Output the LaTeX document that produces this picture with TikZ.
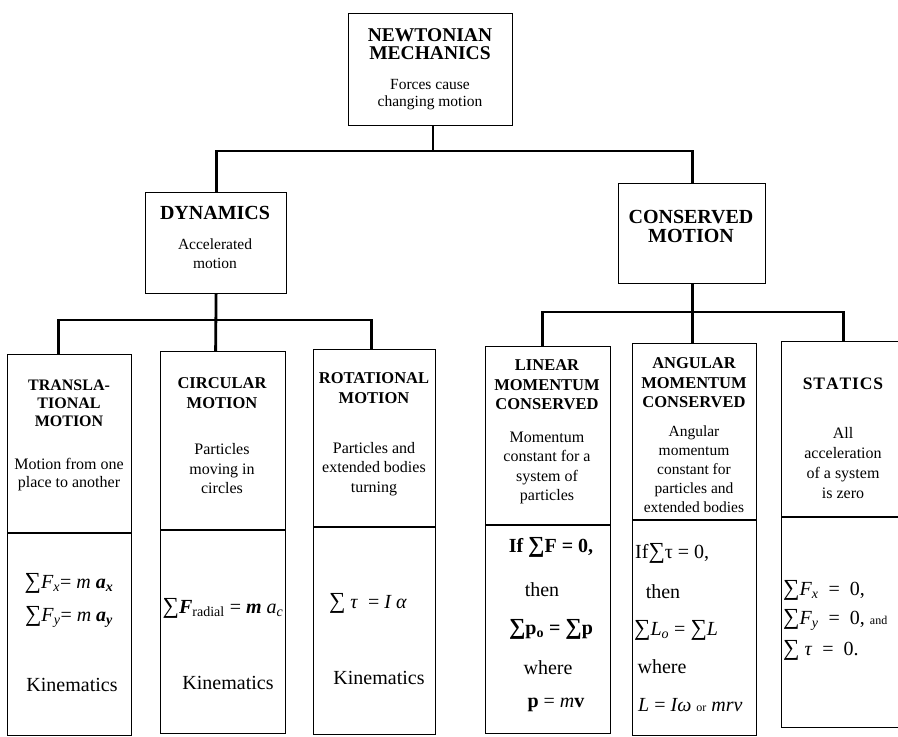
\documentclass[tikz,border=0pt]{standalone}
\usepackage{fontspec}
\setmainfont{Liberation Serif}
\newcommand{\bigS}{{\fontsize{23}{23}\selectfont ∑}}
\newcommand{\lk}{\kern0.9pt}
\begin{document}
\begin{tikzpicture}[x=1pt,y=-1pt,
  box/.style={draw, line width=1.2pt, rectangle, inner sep=0pt, anchor=north west},
  conn/.style={line width=2.8pt},
  divl/.style={line width=1.2pt},
  hA/.style={font=\fontsize{19.5}{18.5}\selectfont\bfseries, align=center, inner sep=0pt},
  hB/.style={font=\fontsize{16.5}{19.5}\selectfont\bfseries, align=center, inner sep=0pt},
  bodyt/.style={font=\fontsize{16}{19.5}\selectfont, align=center, inner sep=0pt},
  frm/.style={font=\fontsize{20}{22}\selectfont, inner sep=0pt},
  frmw/.style={font=\fontsize{20}{22}\selectfont, inner sep=0pt, anchor=west}
]
\useasboundingbox (0,0) rectangle (898,737);
\clip (0,0) rectangle (898,737);
\fill[white] (0,0) rectangle (898,737);

% boxes
\node[box, minimum width=164pt, minimum height=112pt] (top) at (348,13) {};
\node[box, minimum width=141pt, minimum height=101pt] (dyn) at (145,192) {};
\node[box, minimum width=147pt, minimum height=100pt] (cons) at (618,183) {};
\node[box, minimum width=124pt, minimum height=381pt] (trans) at (7,354) {};
\node[box, minimum width=125pt, minimum height=382pt] (circ) at (160,351) {};
\node[box, minimum width=122pt, minimum height=385pt] (rot) at (313,349) {};
\node[box, minimum width=125pt, minimum height=387pt] (lin) at (485,346) {};
\node[box, minimum width=124pt, minimum height=392pt] (ang) at (632,343) {};
\node[box, minimum width=124pt, minimum height=386pt] (stat) at (781,341) {};

% dividers
\draw[divl] (trans.west |- 0,533) -- (trans.east |- 0,533);
\draw[divl] (circ.west |- 0,530) -- (circ.east |- 0,530);
\draw[divl] (rot.west |- 0,527) -- (rot.east |- 0,527);
\draw[divl] (lin.west |- 0,525) -- (lin.east |- 0,525);
\draw[divl] (ang.west |- 0,520) -- (ang.east |- 0,520);
\draw[divl] (stat.west |- 0,517) -- (stat.east |- 0,517);

% connectors
\coordinate (b1) at (433,151);
\coordinate (b2) at (215,320);
\coordinate (b3) at (692,312);
\draw[conn] (top.south -| b1) -- (b1);
\draw[conn] (dyn.north) |- (b1) -| (cons.north);
\draw[conn] (dyn.south) -- ([xshift=-7.5pt]circ.north);
\draw[conn] ([xshift=-11pt]trans.north) |- (b2) -| ([xshift=-3pt]rot.north);
\draw[conn] (cons.south) -- (cons.south |- ang.north);
\draw[conn] ([xshift=-5.5pt]lin.north) |- (b3) -| (stat.north);

% top level
\node[hA] (t1) at (430,44) {NEWTONIAN\\MECHANICS};
\node[bodyt, font=\fontsize{15.5}{17}\selectfont] (t2) at (430,95) {Forces cause\\changing motion};
\node[hA, font=\fontsize{20}{19}\selectfont\bfseries] (d1) at (215,213) {DYNAMICS};
\node[bodyt, font=\fontsize{15.5}{19}\selectfont] (d2) at (215,254) {Accelerated\\motion};
\node[hA, font=\fontsize{20}{19}\selectfont\bfseries] (c1) at (691,226) {CONSERVED\\MOTION};

% lower headers
\node[hB, font=\fontsize{16}{17.8}\selectfont\bfseries] (h1) at (69,403) {TRANSLA-\\TIONAL\\MOTION};
\node[hB] (h2) at (222,393) {CIRCULAR\\MOTION};
\node[hB] (h3) at (374,388) {ROTATIONAL\\MOTION};
\node[hB] (h4) at (547,385) {LINEAR\\MOMENTUM\\CONSERVED};
\node[hB] (h5) at (694,383) {ANGULAR\\MOMENTUM\\CONSERVED};
\node[hB, font=\fontsize{17.5}{19.5}\selectfont\bfseries] (h6) at (843,384) {S\lk T\lk A\lk T\lk I\lk C\lk S};

% descriptions
\node[bodyt, font=\fontsize{16}{18}\selectfont] (p1) at (69,475) {Motion from one\\place to another};
\node[bodyt] (p2) at (222,469) {Particles\\moving in\\circles};
\node[bodyt] (p3) at (374,469) {Particles and\\extended bodies\\turning};
\node[bodyt] (p4) at (547,468) {Momentum\\constant for a\\system of\\particles};
\node[bodyt, font=\fontsize{15.5}{19}\selectfont] (p5) at (694,469) {Angular\\momentum\\constant for\\particles and\\extended bodies};
\node[bodyt, font=\fontsize{16}{20}\selectfont] (p6) at (843,463) {All\\acceleration\\of a system\\is zero};

% formulas: translational
\node[frm] (f1) at (69,583) {\bigS\textit{F}\textsubscript{\textit{x}}= \textit{m} \textbf{\textit{a}}\textsubscript{\textbf{\textit{x}}}};
\node[frm] (f2) at (69,617) {\bigS\textit{F}\textsubscript{\textit{y}}= \textit{m} \textbf{\textit{a}}\textsubscript{\textbf{\textit{y}}}};
\node[frm] (f3) at (72,685) {Kinematics};
% circular
\node[frm] (f4) at (223,608) {\bigS\textbf{\textit{F}}\textsubscript{radial}~= \textbf{\textit{m}} \textit{a}\textsubscript{\textit{c}}};
\node[frm] (f5) at (228,683) {Kinematics};
% rotational
\node[frm] (f6) at (368,603) {\bigS~\textit{τ} ~= \textit{I α}};
\node[frm] (f7) at (379,678) {Kinematics};
% linear
\node[frm] (g1) at (551,547) {\textbf{If \bigS F = 0,}};
\node[frm] (g2) at (542,590) {then};
\node[frm] (g3) at (551,629) {\textbf{\bigS p\textsubscript{o} = \bigS p}};
\node[frm] (g4) at (548,668) {where};
\node[frm] (g5) at (556,705) {\textbf{p} = \textit{m}\textbf{v}};
% angular
\node[frmw] (k1) at (635,553) {If\bigS τ = 0,};
\node[frm] (k2) at (663,592) {then};
\node[frmw] (k3) at (634,630) {\bigS\textit{L}\textsubscript{\textit{o}} = \bigS\textit{L}};
\node[frm] (k4) at (662,667) {where};
\node[frmw] (k5) at (638,705) {\textit{L} = \textit{Iω} {\fontsize{12}{12}\selectfont or} \textit{mrv}};
% statics
\node[frmw] (s1) at (783,590) {\bigS\textit{F}\textsubscript{\textit{x}} ~=~ 0,};
\node[frmw] (s2) at (783,620) {\bigS\textit{F}\textsubscript{\textit{y}} ~=~ 0, {\fontsize{12}{12}\selectfont and}};
\node[frmw] (s3) at (783,650) {\bigS~\textit{τ} ~=~ 0.};
\end{tikzpicture}
\end{document}
